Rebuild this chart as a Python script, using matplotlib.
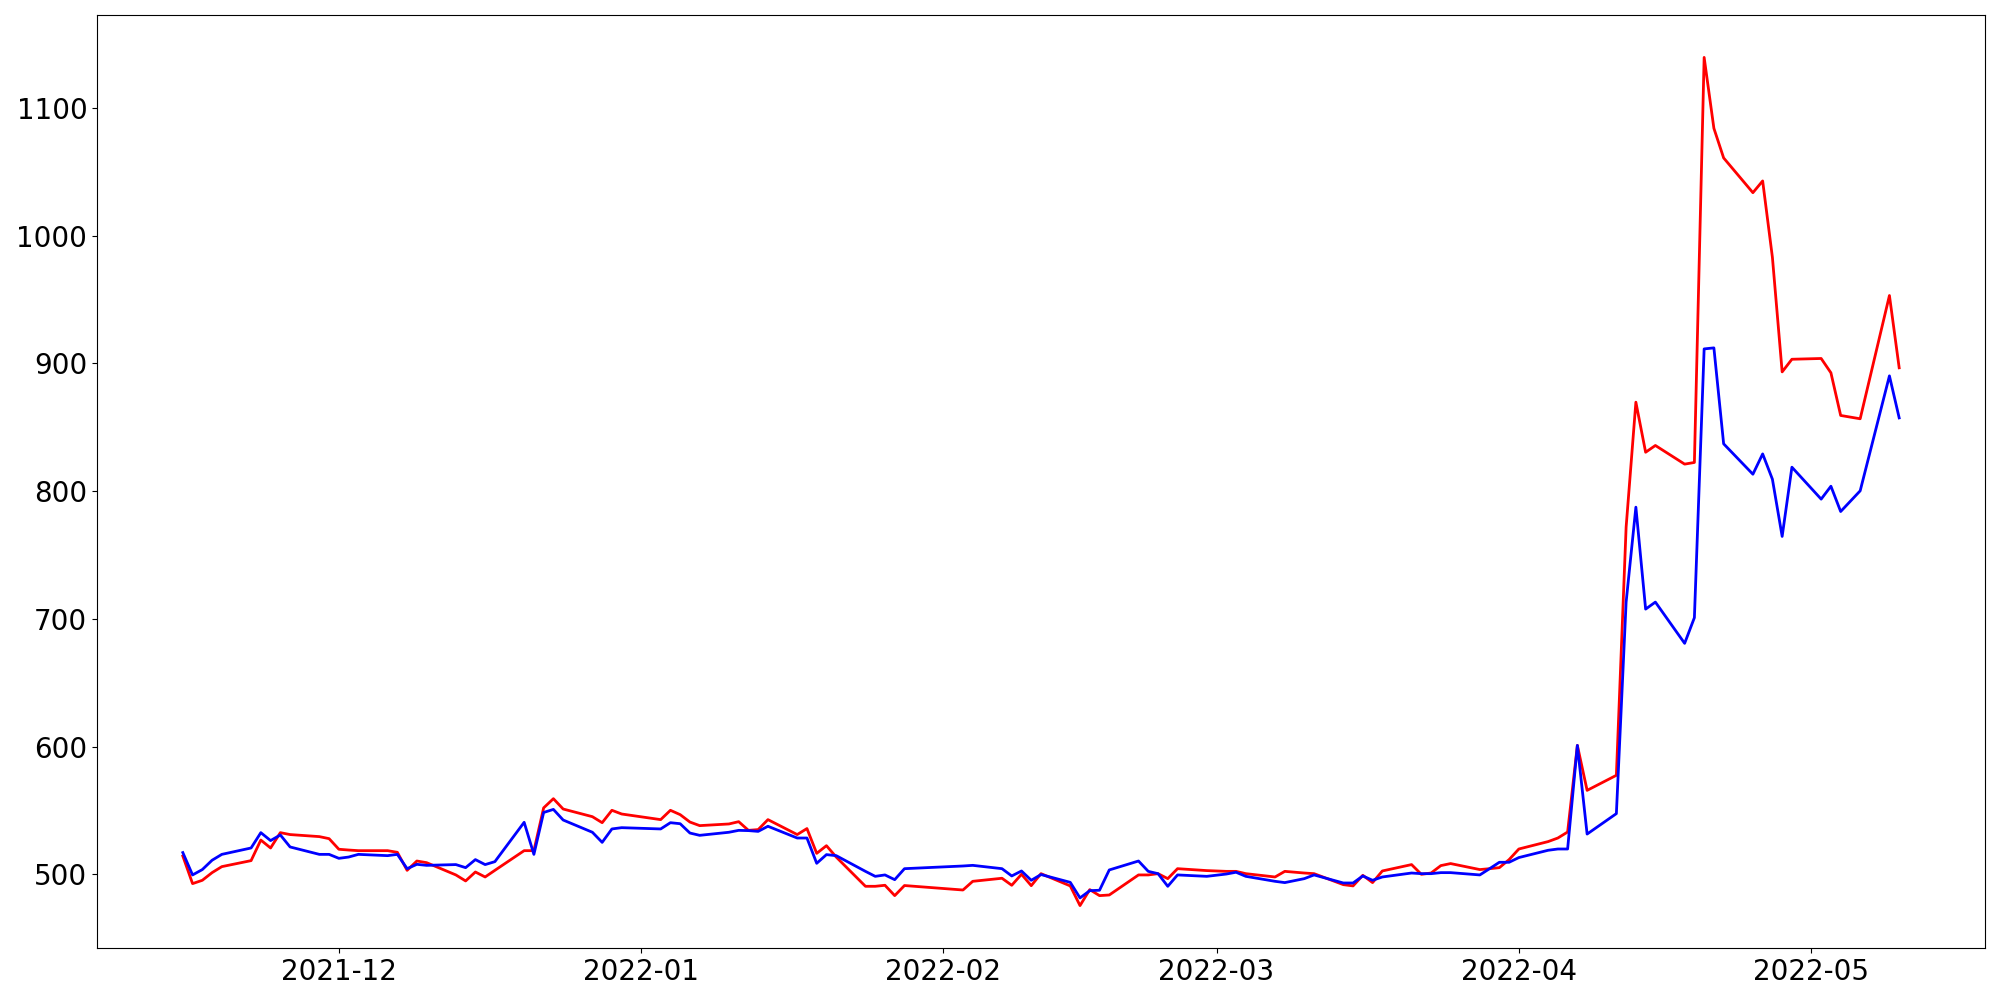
import matplotlib
matplotlib.use('Agg')
import matplotlib.pyplot as plt
import matplotlib.dates as mdates
import pandas as pd

# trading days
dates = [
    '2021-11-15', '2021-11-16', '2021-11-17', '2021-11-18', '2021-11-19',
    '2021-11-22', '2021-11-23', '2021-11-24', '2021-11-25', '2021-11-26',
    '2021-11-29', '2021-11-30',
    '2021-12-01', '2021-12-02', '2021-12-03', '2021-12-06', '2021-12-07',
    '2021-12-08', '2021-12-09', '2021-12-10', '2021-12-13', '2021-12-14',
    '2021-12-15', '2021-12-16', '2021-12-17', '2021-12-20', '2021-12-21',
    '2021-12-22', '2021-12-23', '2021-12-24', '2021-12-27', '2021-12-28',
    '2021-12-29', '2021-12-30',
    '2022-01-03', '2022-01-04', '2022-01-05', '2022-01-06', '2022-01-07',
    '2022-01-10', '2022-01-11', '2022-01-12', '2022-01-13', '2022-01-14',
    '2022-01-17', '2022-01-18', '2022-01-19', '2022-01-20', '2022-01-21',
    '2022-01-24', '2022-01-25', '2022-01-26', '2022-01-27', '2022-01-28',
    '2022-02-03', '2022-02-04', '2022-02-07', '2022-02-08', '2022-02-09',
    '2022-02-10', '2022-02-11', '2022-02-14', '2022-02-15', '2022-02-16',
    '2022-02-17', '2022-02-18', '2022-02-21', '2022-02-22', '2022-02-23',
    '2022-02-24', '2022-02-25', '2022-02-28',
    '2022-03-02', '2022-03-03', '2022-03-04', '2022-03-07', '2022-03-08',
    '2022-03-10', '2022-03-11', '2022-03-14', '2022-03-15', '2022-03-16',
    '2022-03-17', '2022-03-18', '2022-03-21', '2022-03-22', '2022-03-23',
    '2022-03-24', '2022-03-25', '2022-03-28', '2022-03-29', '2022-03-30',
    '2022-03-31',
    '2022-04-01', '2022-04-04', '2022-04-05', '2022-04-06', '2022-04-07',
    '2022-04-08', '2022-04-11', '2022-04-12', '2022-04-13', '2022-04-14',
    '2022-04-15', '2022-04-18', '2022-04-19', '2022-04-20', '2022-04-21',
    '2022-04-22', '2022-04-25', '2022-04-26', '2022-04-27', '2022-04-28',
    '2022-04-29',
    '2022-05-02', '2022-05-03', '2022-05-04', '2022-05-06', '2022-05-09',
    '2022-05-10',
]

red_values = [
    514.3, 492.7, 495.3, 501.3, 506.0, 510.7, 526.8, 520.6, 532.6, 531.1,
    529.5, 527.9,
    519.6, 519.0, 518.5, 518.5, 517.2, 503.1, 510.4, 509.1, 499.5, 494.8,
    501.8, 497.9, 503.1, 518.5, 518.5, 552.0, 559.2, 551.1, 545.1, 540.4,
    550.1, 547.2,
    542.8, 550.1, 546.7, 540.9, 538.1, 539.4, 541.2, 534.4, 535.0, 542.8,
    531.1, 535.8, 516.4, 522.4, 513.5, 490.6, 490.6, 491.4, 483.3, 491.2,
    487.7, 494.5, 496.9, 491.4, 500.0, 491.1, 500.5, 490.9, 475.5, 488.0,
    483.3, 483.8, 499.5, 499.5, 500.5, 496.6, 504.4, 502.9,
    502.3, 502.3, 500.5, 497.9, 502.3, 501.0, 500.5, 491.9, 490.9, 499.2,
    493.5, 502.6, 507.6, 500.0, 501.0, 506.8, 508.4, 503.7, 504.4, 505.2,
    511.5,
    519.8, 525.6, 528.4, 533.1, 600.9, 565.7, 577.5, 771.8, 869.6, 830.4,
    835.7, 821.1, 822.4, 1139.5, 1084.0, 1060.8, 1033.6, 1042.8, 983.0, 893.3,
    903.2,
    903.8, 892.6, 859.2, 856.6, 953.1, 896.5,
]

blue_values = [
    517.0, 499.5, 503.7, 511.0, 515.6, 520.6, 532.6, 526.4, 530.8, 521.4,
    515.6, 515.6,
    512.5, 513.5, 515.6, 514.6, 515.6, 504.4, 507.8, 507.0, 507.6, 505.2,
    511.5, 507.6, 509.9, 540.7, 515.6, 548.4, 550.8, 542.5, 532.9, 525.0,
    535.5, 536.5,
    535.5, 540.4, 539.6, 532.3, 530.5, 532.9, 534.4, 534.2, 533.6, 537.6,
    528.4, 528.4, 508.6, 515.4, 514.6, 502.3, 498.4, 499.5, 495.8, 504.4,
    506.5, 507.0, 504.4, 498.7, 502.6, 495.3, 499.8, 493.7, 481.5, 487.2,
    487.5, 503.4, 510.4, 502.3, 500.5, 490.6, 499.5, 498.4,
    500.2, 501.6, 498.4, 494.5, 493.5, 496.6, 499.5, 493.2, 493.2, 498.7,
    495.3, 497.9, 501.0, 500.5, 500.5, 501.3, 501.3, 499.5, 504.4, 509.4,
    509.4,
    513.1, 518.8, 519.8, 519.8, 600.9, 531.5, 547.5, 713.1, 787.4, 707.6,
    713.1, 680.8, 700.9, 911.3, 912.1, 837.0, 813.2, 829.1, 809.3, 764.5,
    818.7,
    793.7, 803.8, 784.0, 800.2, 890.2, 857.3,
]

x = pd.to_datetime(dates)

fig, ax = plt.subplots(figsize=(20, 10), dpi=100)
ax.plot(x, red_values, color='red', linewidth=2)
ax.plot(x, blue_values, color='blue', linewidth=2)

ax.xaxis.set_major_locator(mdates.MonthLocator())
ax.xaxis.set_major_formatter(mdates.DateFormatter('%Y-%m'))
ax.tick_params(axis='both', labelsize=20)

plt.subplots_adjust(left=0.0485, right=0.9925, top=0.985, bottom=0.052)
plt.savefig('out.png')
